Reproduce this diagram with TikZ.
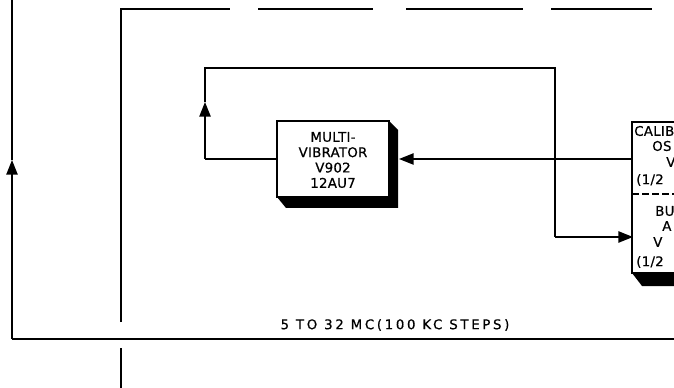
\documentclass[tikz,border=0pt]{standalone}
\usepackage{fontspec}
\setmainfont{DejaVu Sans}
\usetikzlibrary{arrows.meta}
\begin{document}
\begin{tikzpicture}[x=0.75pt,y=-0.75pt,
  wire/.style={line width=1.1pt},
  thin wire/.style={line width=0.9pt},
  arr/.style={wire,-{Triangle[length=11pt,width=8.5pt]}},
  lbl/.style={font=\fontsize{10}{11.5}\selectfont\addfontfeature{LetterSpace=2,FakeBold=0.6}, inner sep=0pt, align=center},
  frag/.style={font=\fontsize{10}{11.5}\selectfont\addfontfeature{LetterSpace=2,FakeBold=0.6}, inner sep=0pt, anchor=west},
  box/.style={draw, fill=white, line width=1.1pt, inner sep=0pt},
]
\useasboundingbox (0,0) rectangle (674,388);
\clip (0,0) rectangle (674,388);

% ---- multivibrator block with 3D shadow
\fill (389,121) -- (398,130) -- (398,208) -- (286,208) -- (277,197) -- cycle;
\node[box, minimum width=84pt, minimum height=57pt] (mv) at (333,159) {};
\node[lbl] (mvt) at (333,160) {MULTI-\\VIBRATOR\\V902\\12AU7};

% ---- calibrator / buffer block (cut by the right edge, as in the source)
\fill (632,273) -- (642,286) -- (690,286) -- (690,273) -- cycle;
\draw[wire, fill=white] (690,122) -- (632,122) -- (632,273) -- (690,273);
\draw[thin wire, dashed, dash pattern=on 5pt off 2.5pt] (632,194) -- (690,194);
\node[frag] (t1) at (634,131) {CALIB};
\node[frag] (t2) at (652,146) {OS};
\node[frag] (t3) at (666,162) {V};
\node[frag] (t4) at (636,180) {(1/2};
\node[frag] (t5) at (655,211) {BU};
\node[frag] (t6) at (662,226) {A};
\node[frag] (t7) at (653,242) {V};
\node[frag] (t8) at (636,262) {(1/2};

% ---- connection coordinates
\coordinate (c1) at (205,159);
\coordinate (a1) at (205,102);
\coordinate (c2) at (205,68);
\coordinate (c3) at (555,68);
\coordinate (c4) at (555,237);
\coordinate (calin) at (633,237);
\coordinate (calout) at (632,159);
\coordinate (mvin) at (399,159);

\draw[wire] (mv.west) -- (c1);
\draw[arr] (c1) -- (a1);
\draw[wire] (a1) -- (c2) -- (c3) -- (c4);
\draw[arr] (c4) -- (calin);
\draw[arr] (calout) -- (mvin);

% ---- outer frame lines
\coordinate (o1) at (12,0);
\coordinate (o2) at (12,339);
\coordinate (o3) at (674,339);
\coordinate (oa) at (12,160);
\draw[thin wire] (o2) -- (o3);
\draw[arr] (o2) -- (oa);
\draw[wire] (oa) -- (o1);

\coordinate (f1) at (121,9);
\coordinate (f2) at (121,322);
\coordinate (f3) at (121,348);
\coordinate (f4) at (121,388);
\draw[wire] (f2) -- (f1) -- (230,9);
\draw[wire] (f3) -- (f4);
\draw[line width=1.3pt] (258,9) -- (373,9);
\draw[line width=1.3pt] (406,9) -- (523,9);
\draw[line width=1.3pt] (551,9) -- (652,9);

\node[lbl, font=\fontsize{10}{11.5}\selectfont\addfontfeature{LetterSpace=20,FakeBold=0.6}] (freq) at (395,325) {5 TO 32 MC(100 KC STEPS)};
\end{tikzpicture}
\end{document}
